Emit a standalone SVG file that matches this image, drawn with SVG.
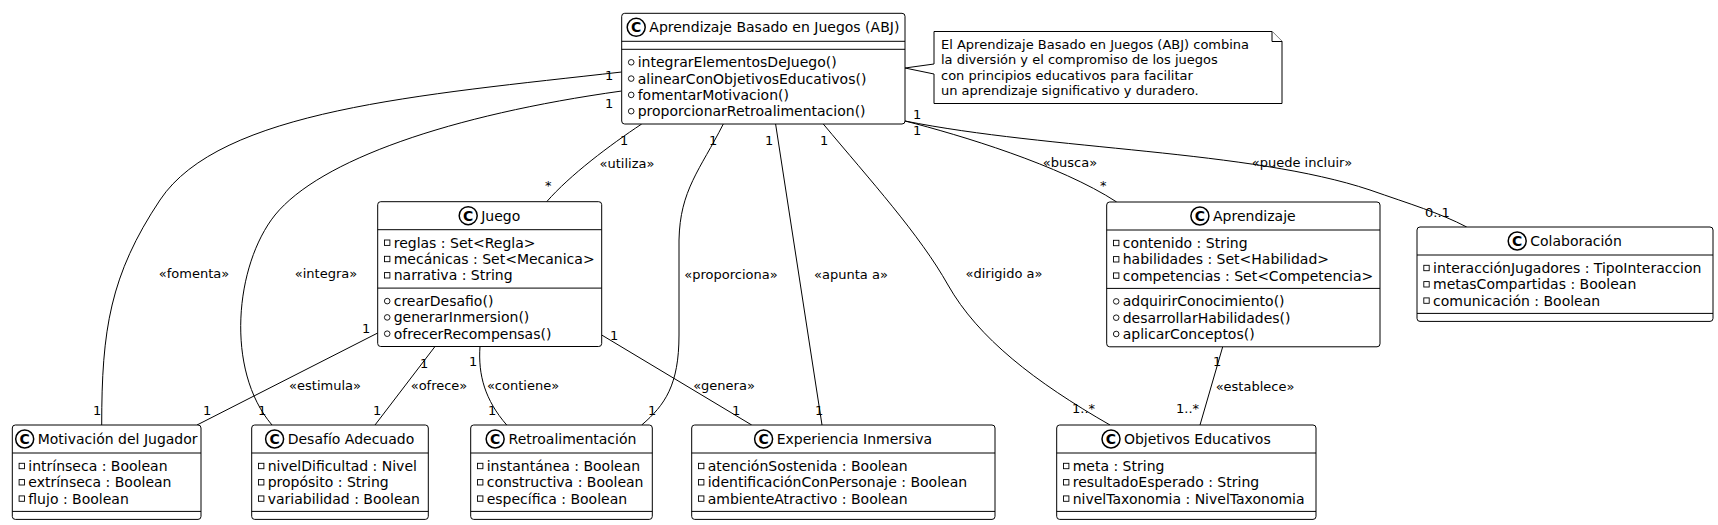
<svg xmlns="http://www.w3.org/2000/svg" width="1718" height="525" viewBox="0 0 1718 525">
<style>
text { font-family: "DejaVu Sans", Verdana, sans-serif; fill: #000; }
.box { fill: #fff; stroke: #000; stroke-width: 1; }
.sep { stroke: #000; stroke-width: 1; }
.t { font-size: 14px; }
.title { font-size: 14px; text-anchor: middle; }
.spot { fill: #fff; stroke: #000; stroke-width: 1.5; }
.spotC { font-size: 14px; font-weight: bold; text-anchor: middle; }
.vis { fill: none; stroke: #000; stroke-width: 0.9; }
.edge { fill: none; stroke: #000; stroke-width: 1; }
.lbl { font-size: 13px; }
.lblc { font-size: 13px; text-anchor: middle; }
.note { fill: #fff; stroke: #000; stroke-width: 1; }
</style>
<defs>
<rect id="priv" x="-2.7" y="-2.7" width="5.4" height="5.4" class="vis"/>
<circle id="pub" r="2.8" class="vis"/>
</defs>
<rect width="1718" height="525" fill="#fff"/>

<g id="connectors">
<path class="edge" d="M621.7,72 C 420,95 220,110 160,200 C 110,275 101.7,330 101.7,425"/>
<path class="edge" d="M621.7,91 C 450,115 320,160 275,215 C 235,265 225,370 272,425"/>
<path class="edge" d="M641.7,124 C 610,145 570,175 546.7,201.7"/>
<path class="edge" d="M723.3,124 C 700,170 680,190 679,240 L 679,335 C 679,385 665,405 641.7,425"/>
<path class="edge" d="M775.6,124 L 822,425"/>
<path class="edge" d="M823.3,124 C 870,180 920,235 948,285 C 978,338 1035,382 1110,425"/>
<path class="edge" d="M905,121 C 960,135 1060,165 1116.7,202"/>
<path class="edge" d="M905,121 C 1050,150 1250,150 1370,190 C 1410,204 1440,213 1466.7,227"/>
<path class="edge" d="M377.7,333 L 197,425"/>
<path class="edge" d="M435,346.5 L 375,425"/>
<path class="edge" d="M480,346.5 C 478,375 485,400 506.7,425"/>
<path class="edge" d="M601.7,335 L 751.7,425"/>
<path class="edge" d="M1222.7,346.8 L 1200,425"/>

<text class="lblc" x="194" y="278">«fomenta»</text>
<text class="lblc" x="326" y="278">«integra»</text>
<text class="lblc" x="627" y="168">«utiliza»</text>
<text class="lblc" x="731" y="279">«proporciona»</text>
<text class="lblc" x="851" y="279">«apunta a»</text>
<text class="lblc" x="1004" y="278">«dirigido a»</text>
<text class="lblc" x="1070" y="167">«busca»</text>
<text class="lblc" x="1302" y="167">«puede incluir»</text>
<text class="lblc" x="325" y="390">«estimula»</text>
<text class="lblc" x="439" y="390">«ofrece»</text>
<text class="lblc" x="523" y="390">«contiene»</text>
<text class="lblc" x="724" y="390">«genera»</text>
<text class="lblc" x="1255" y="391">«establece»</text>

<text class="lbl" x="605" y="80">1</text>
<text class="lbl" x="605" y="108">1</text>
<text class="lbl" x="620" y="145">1</text>
<text class="lbl" x="545" y="190">*</text>
<text class="lbl" x="709" y="145">1</text>
<text class="lbl" x="765" y="145">1</text>
<text class="lbl" x="820" y="145">1</text>
<text class="lbl" x="913" y="119">1</text>
<text class="lbl" x="913" y="135">1</text>
<text class="lbl" x="1100" y="190">*</text>
<text class="lbl" x="1425" y="217">0..1</text>
<text class="lbl" x="93" y="415">1</text>
<text class="lbl" x="203" y="415">1</text>
<text class="lbl" x="258" y="415">1</text>
<text class="lbl" x="373" y="415">1</text>
<text class="lbl" x="488" y="415">1</text>
<text class="lbl" x="648" y="415">1</text>
<text class="lbl" x="732" y="415">1</text>
<text class="lbl" x="815" y="415">1</text>
<text class="lbl" x="1072" y="413">1..*</text>
<text class="lbl" x="1176" y="413">1..*</text>
<text class="lbl" x="1213" y="366">1</text>
<text class="lbl" x="362" y="333">1</text>
<text class="lbl" x="420" y="368">1</text>
<text class="lbl" x="469" y="366">1</text>
<text class="lbl" x="610" y="340">1</text>
</g>

<g id="note">
<path class="note" d="M934,31.5 L1272,31.5 L1282,41.5 L1282,103.5 L934,103.5 L934,74 L905,68 L934,64 Z"/>
<path class="note" d="M1272,31.5 L1272,41.5 L1282,41.5" fill="none"/>
<text class="lbl" x="941" y="48.5">El Aprendizaje Basado en Juegos (ABJ) combina</text>
<text class="lbl" x="941" y="64">la diversión y el compromiso de los juegos</text>
<text class="lbl" x="941" y="79.5">con principios educativos para facilitar</text>
<text class="lbl" x="941" y="95">un aprendizaje significativo y duradero.</text>
</g>

<g id="abj">
<rect class="box" x="621.7" y="13.3" width="283.3" height="110.7" rx="3"/>
<circle class="spot" cx="636.2" cy="27.3" r="9"/>
<text class="spotC" x="636.2" y="32.3">C</text>
<text class="title" x="774.35" y="32.3">Aprendizaje Basado en Juegos (ABJ)</text>
<line class="sep" x1="621.7" y1="41.3" x2="905" y2="41.3"/>
<line class="sep" x1="621.7" y1="49.3" x2="905" y2="49.3"/>
<use href="#pub" x="631.2" y="62.3"/><text class="t" x="637.7" y="67.3">integrarElementosDeJuego()</text>
<use href="#pub" x="631.2" y="78.6"/><text class="t" x="637.7" y="83.6">alinearConObjetivosEducativos()</text>
<use href="#pub" x="631.2" y="94.9"/><text class="t" x="637.7" y="99.9">fomentarMotivacion()</text>
<use href="#pub" x="631.2" y="111.2"/><text class="t" x="637.7" y="116.2">proporcionarRetroalimentacion()</text>
</g>

<g id="juego">
<rect class="box" x="377.7" y="201.7" width="224" height="144.8" rx="3"/>
<circle class="spot" cx="468.2" cy="215.7" r="9"/>
<text class="spotC" x="468.2" y="220.7">C</text>
<text class="title" x="500.7" y="220.7">Juego</text>
<line class="sep" x1="377.7" y1="229.7" x2="601.7" y2="229.7"/>
<use href="#priv" x="387.2" y="242.7"/><text class="t" x="393.7" y="247.7">reglas : Set&lt;Regla&gt;</text>
<use href="#priv" x="387.2" y="259"/><text class="t" x="393.7" y="264">mecánicas : Set&lt;Mecanica&gt;</text>
<use href="#priv" x="387.2" y="275.3"/><text class="t" x="393.7" y="280.3">narrativa : String</text>
<line class="sep" x1="377.7" y1="288.1" x2="601.7" y2="288.1"/>
<use href="#pub" x="387.2" y="301.1"/><text class="t" x="393.7" y="306.1">crearDesafio()</text>
<use href="#pub" x="387.2" y="317.4"/><text class="t" x="393.7" y="322.4">generarInmersion()</text>
<use href="#pub" x="387.2" y="333.7"/><text class="t" x="393.7" y="338.7">ofrecerRecompensas()</text>
</g>

<g id="aprendizaje">
<rect class="box" x="1106.7" y="202" width="273.3" height="144.8" rx="3"/>
<circle class="spot" cx="1199.9" cy="216" r="9"/>
<text class="spotC" x="1199.9" y="221">C</text>
<text class="title" x="1254.35" y="221">Aprendizaje</text>
<line class="sep" x1="1106.7" y1="230" x2="1380" y2="230"/>
<use href="#priv" x="1116.2" y="243"/><text class="t" x="1122.7" y="248">contenido : String</text>
<use href="#priv" x="1116.2" y="259.3"/><text class="t" x="1122.7" y="264.3">habilidades : Set&lt;Habilidad&gt;</text>
<use href="#priv" x="1116.2" y="275.6"/><text class="t" x="1122.7" y="280.6">competencias : Set&lt;Competencia&gt;</text>
<line class="sep" x1="1106.7" y1="288.4" x2="1380" y2="288.4"/>
<use href="#pub" x="1116.2" y="301.4"/><text class="t" x="1122.7" y="306.4">adquirirConocimiento()</text>
<use href="#pub" x="1116.2" y="317.7"/><text class="t" x="1122.7" y="322.7">desarrollarHabilidades()</text>
<use href="#pub" x="1116.2" y="334"/><text class="t" x="1122.7" y="339">aplicarConceptos()</text>
</g>

<g id="colaboracion">
<rect class="box" x="1417" y="227" width="296" height="94.4" rx="3"/>
<circle class="spot" cx="1517.2" cy="241" r="9"/>
<text class="spotC" x="1517.2" y="246">C</text>
<text class="title" x="1576" y="246">Colaboración</text>
<line class="sep" x1="1417" y1="255" x2="1713" y2="255"/>
<use href="#priv" x="1426.5" y="268"/><text class="t" x="1433" y="273">interacciónJugadores : TipoInteraccion</text>
<use href="#priv" x="1426.5" y="284.3"/><text class="t" x="1433" y="289.3">metasCompartidas : Boolean</text>
<use href="#priv" x="1426.5" y="300.6"/><text class="t" x="1433" y="305.6">comunicación : Boolean</text>
<line class="sep" x1="1417" y1="313.4" x2="1713" y2="313.4"/>
</g>

<g id="motivacion">
<rect class="box" x="12.3" y="425" width="188.7" height="94.4" rx="3"/>
<circle class="spot" cx="24.7" cy="439" r="9"/>
<text class="spotC" x="24.7" y="444">C</text>
<text class="title" x="117.65" y="444">Motivación del Jugador</text>
<line class="sep" x1="12.3" y1="453" x2="201" y2="453"/>
<use href="#priv" x="21.8" y="466"/><text class="t" x="28.3" y="471">intrínseca : Boolean</text>
<use href="#priv" x="21.8" y="482.3"/><text class="t" x="28.3" y="487.3">extrínseca : Boolean</text>
<use href="#priv" x="21.8" y="498.6"/><text class="t" x="28.3" y="503.6">flujo : Boolean</text>
<line class="sep" x1="12.3" y1="511.4" x2="201" y2="511.4"/>
</g>

<g id="desafio">
<rect class="box" x="251.7" y="425" width="176.6" height="94.4" rx="3"/>
<circle class="spot" cx="274.6" cy="439" r="9"/>
<text class="spotC" x="274.6" y="444">C</text>
<text class="title" x="351" y="444">Desafío Adecuado</text>
<line class="sep" x1="251.7" y1="453" x2="428.3" y2="453"/>
<use href="#priv" x="261.2" y="466"/><text class="t" x="267.7" y="471">nivelDificultad : Nivel</text>
<use href="#priv" x="261.2" y="482.3"/><text class="t" x="267.7" y="487.3">propósito : String</text>
<use href="#priv" x="261.2" y="498.6"/><text class="t" x="267.7" y="503.6">variabilidad : Boolean</text>
<line class="sep" x1="251.7" y1="511.4" x2="428.3" y2="511.4"/>
</g>

<g id="retroalimentacion">
<rect class="box" x="470.7" y="425" width="181.6" height="94.4" rx="3"/>
<circle class="spot" cx="495.15" cy="439" r="9"/>
<text class="spotC" x="495.15" y="444">C</text>
<text class="title" x="572.5" y="444">Retroalimentación</text>
<line class="sep" x1="470.7" y1="453" x2="652.3" y2="453"/>
<use href="#priv" x="480.2" y="466"/><text class="t" x="486.7" y="471">instantánea : Boolean</text>
<use href="#priv" x="480.2" y="482.3"/><text class="t" x="486.7" y="487.3">constructiva : Boolean</text>
<use href="#priv" x="480.2" y="498.6"/><text class="t" x="486.7" y="503.6">específica : Boolean</text>
<line class="sep" x1="470.7" y1="511.4" x2="652.3" y2="511.4"/>
</g>

<g id="experiencia">
<rect class="box" x="691.7" y="425" width="303.3" height="94.4" rx="3"/>
<circle class="spot" cx="763.6" cy="439" r="9"/>
<text class="spotC" x="763.6" y="444">C</text>
<text class="title" x="854.35" y="444">Experiencia Inmersiva</text>
<line class="sep" x1="691.7" y1="453" x2="995" y2="453"/>
<use href="#priv" x="701.2" y="466"/><text class="t" x="707.7" y="471">atenciónSostenida : Boolean</text>
<use href="#priv" x="701.2" y="482.3"/><text class="t" x="707.7" y="487.3">identificaciónConPersonaje : Boolean</text>
<use href="#priv" x="701.2" y="498.6"/><text class="t" x="707.7" y="503.6">ambienteAtractivo : Boolean</text>
<line class="sep" x1="691.7" y1="511.4" x2="995" y2="511.4"/>
</g>

<g id="objetivos">
<rect class="box" x="1056.7" y="425" width="259.3" height="94.4" rx="3"/>
<circle class="spot" cx="1111" cy="439" r="9"/>
<text class="spotC" x="1111" y="444">C</text>
<text class="title" x="1197.35" y="444">Objetivos Educativos</text>
<line class="sep" x1="1056.7" y1="453" x2="1316" y2="453"/>
<use href="#priv" x="1066.2" y="466"/><text class="t" x="1072.7" y="471">meta : String</text>
<use href="#priv" x="1066.2" y="482.3"/><text class="t" x="1072.7" y="487.3">resultadoEsperado : String</text>
<use href="#priv" x="1066.2" y="498.6"/><text class="t" x="1072.7" y="503.6">nivelTaxonomia : NivelTaxonomia</text>
<line class="sep" x1="1056.7" y1="511.4" x2="1316" y2="511.4"/>
</g>
</svg>
